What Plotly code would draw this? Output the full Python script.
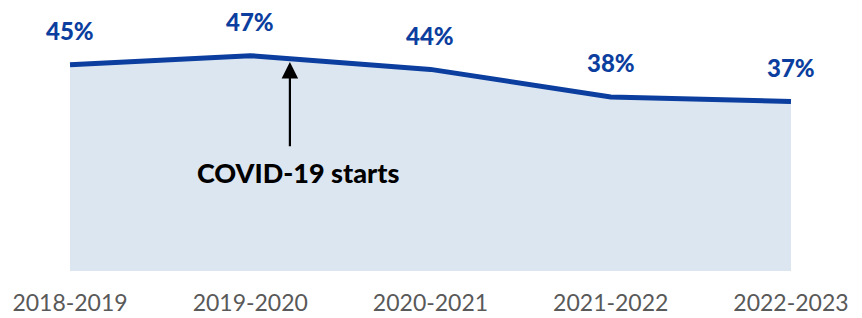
import plotly.graph_objects as go

years = ["2018-2019", "2019-2020", "2020-2021", "2021-2022", "2022-2023"]
values = [45, 47, 44, 38, 37]
labels = ["45%", "47%", "44%", "38%", "37%"]

xs = list(range(len(years)))
blue = "#0B3E9E"

fig = go.Figure()
fig.add_trace(go.Scatter(
    x=xs, y=values, mode="lines",
    line=dict(color=blue, width=5),
    fill="tozeroy", fillcolor="#DCE6F1",
    hoverinfo="skip",
))

for x, v, t in zip(xs, values, labels):
    fig.add_annotation(x=x, y=v, text=t, showarrow=False, yshift=34,
                       font=dict(family="Lato", size=24, color=blue, weight=900))

fig.add_annotation(x=1.22, y=45.6, ax=1.22, ay=26.9, xref="x", yref="y",
                   axref="x", ayref="y", showarrow=True, arrowhead=2,
                   arrowsize=1.5, arrowwidth=2.2, arrowcolor="black", text="")
fig.add_annotation(x=1.265, y=21.6, text="COVID-19 starts", showarrow=False,
                   font=dict(family="Lato", size=27, color="black", weight=900))

fig.update_layout(
    width=854, height=310,
    margin=dict(l=0, r=0, t=0, b=47),
    plot_bgcolor="white", paper_bgcolor="white",
    showlegend=False,
    xaxis=dict(range=[-0.344, 4.394], tickmode="array", tickvals=xs, ticktext=years,
               showgrid=False, zeroline=False, showline=False, ticks="",
               ticklabelstandoff=16,
               tickfont=dict(family="Lato", size=23, color="#595959")),
    yaxis=dict(range=[0, 57.4], visible=False, showgrid=False, zeroline=False),
)

fig.write_html("out.html")
